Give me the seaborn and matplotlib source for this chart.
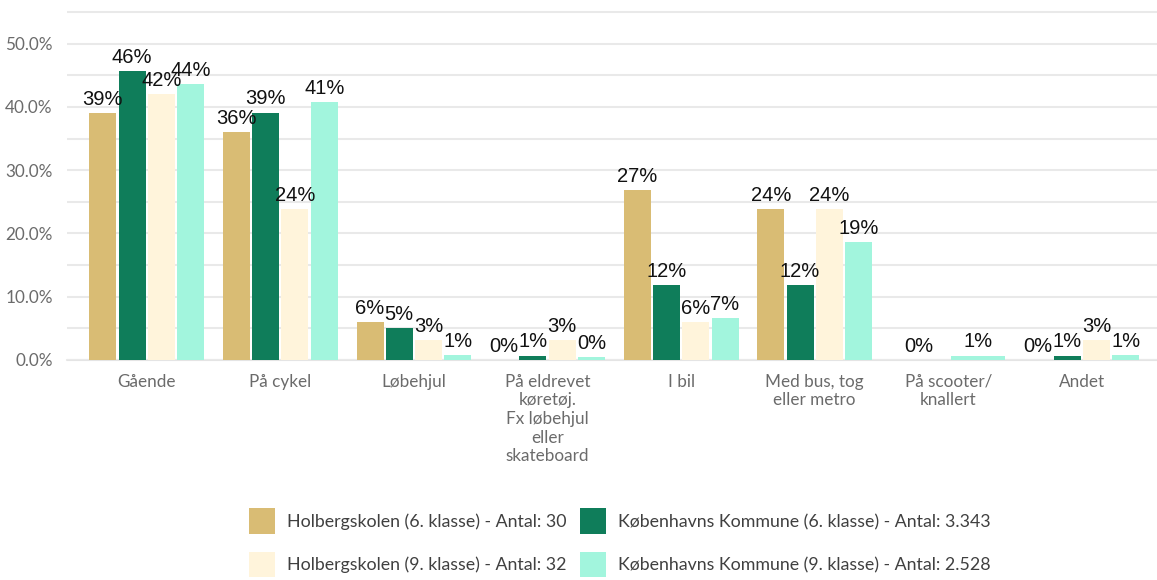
import numpy as np
import pandas as pd
import matplotlib
matplotlib.use("Agg")
import matplotlib.pyplot as plt
from matplotlib.patches import Patch
from matplotlib.ticker import MultipleLocator, PercentFormatter
import seaborn as sns

# Transportform til skole - andel i procent
categories = ["Gående", "På cykel", "Løbehjul",
              "På eldrevet\nkøretøj.\nFx løbehjul\neller\nskateboard",
              "I bil", "Med bus, tog\neller metro", "På scooter/\nknallert", "Andet"]
series = ["Holbergskolen (6. klasse) - Antal: 30",
          "Københavns Kommune (6. klasse) - Antal: 3.343",
          "Holbergskolen (9. klasse) - Antal: 32",
          "Københavns Kommune (9. klasse) - Antal: 2.528"]
holberg_6 = [39.0, 36.0, 6.0, 0.0, 26.9, 23.9, 0.0, 0.0]
kk_6 = [45.7, 39.1, 5.0, 0.7, 11.9, 11.9, np.nan, 0.7]
holberg_9 = [42.0, 23.9, 3.1, 3.1, 6.0, 23.9, np.nan, 3.1]
kk_9 = [43.6, 40.7, 0.8, 0.4, 6.6, 18.6, 0.7, 0.8]
colors = ["#D9BC74", "#0F7D5A", "#FFF4DB", "#A2F5DD"]

sns.set_style("white")
plt.rcParams["font.family"] = ["Lato", "DejaVu Sans"]

rows = []
for s, vals in zip(series, [holberg_6, kk_6, holberg_9, kk_9]):
    for c, v in zip(categories, vals):
        rows.append({"kategori": c, "gruppe": s, "andel": v})
df = pd.DataFrame(rows).dropna()
palette = dict(zip(series, colors))

fig = plt.figure(figsize=(11.57, 5.80), dpi=100)
ax = fig.add_axes([66.7 / 1157, 1 - 360 / 580, 1 - 66.7 / 1157, 360 / 580])

# categories with all four groups go in one call, the rest get their own dodge
counts = df.groupby("kategori").size()
full_cats = counts[counts == len(series)].index
sns.barplot(data=df[df["kategori"].isin(full_cats)], x="kategori", y="andel",
            hue="gruppe", order=categories, hue_order=series, palette=palette,
            width=0.876, gap=0.077, saturation=1, errorbar=None, linewidth=0,
            legend=False, ax=ax)
for cat in counts[counts < len(series)].index:
    sub = df[df["kategori"] == cat]
    present = [s for s in series if s in set(sub["gruppe"])]
    sns.barplot(data=sub, x="kategori", y="andel", hue="gruppe", order=categories,
                hue_order=present, palette=palette, width=0.876, gap=0.077,
                saturation=1, errorbar=None, linewidth=0, legend=False, ax=ax)

for cont in ax.containers:
    ax.bar_label(cont, fmt="{:.0f}%", padding=3, fontsize=14.5,
                 family="Liberation Sans", color="#111111")

ax.set_xlim(-0.599, 7.562)
ax.set_ylim(0, 56.9)
ax.yaxis.set_major_locator(MultipleLocator(10))
ax.yaxis.set_minor_locator(MultipleLocator(5))
ax.yaxis.set_major_formatter(PercentFormatter(xmax=100, decimals=1))
ax.grid(axis="y", which="both", color="#E9E9E9", lw=1.5)
ax.grid(axis="x", visible=False)
ax.set_axisbelow(True)
ax.axhline(0, color="#E4E4E4", lw=1.5, zorder=0.5, clip_on=False)
sns.despine(ax=ax, left=True, bottom=True)
ax.set_xlabel("")
ax.set_ylabel("")
ax.tick_params(axis="x", length=4, width=1.5, color="#333333", pad=6,
               labelsize=12.3, labelcolor="#6b6b6b")
ax.tick_params(axis="y", which="both", length=0, pad=10, labelsize=12.3,
               labelcolor="#6b6b6b")

order = [0, 2, 1, 3]
handles = [Patch(facecolor=colors[i], edgecolor="none") for i in order]
labels = [series[i] for i in order]
fig.legend(handles, labels, loc="center", bbox_to_anchor=(0.5355, 0.064), ncol=2,
           frameon=False, handlelength=1.5, handleheight=1.85, labelspacing=0.98,
           columnspacing=0.75, handletextpad=0.65, fontsize=12.8, labelcolor="#404040")

fig.savefig("out.png", dpi=100)
